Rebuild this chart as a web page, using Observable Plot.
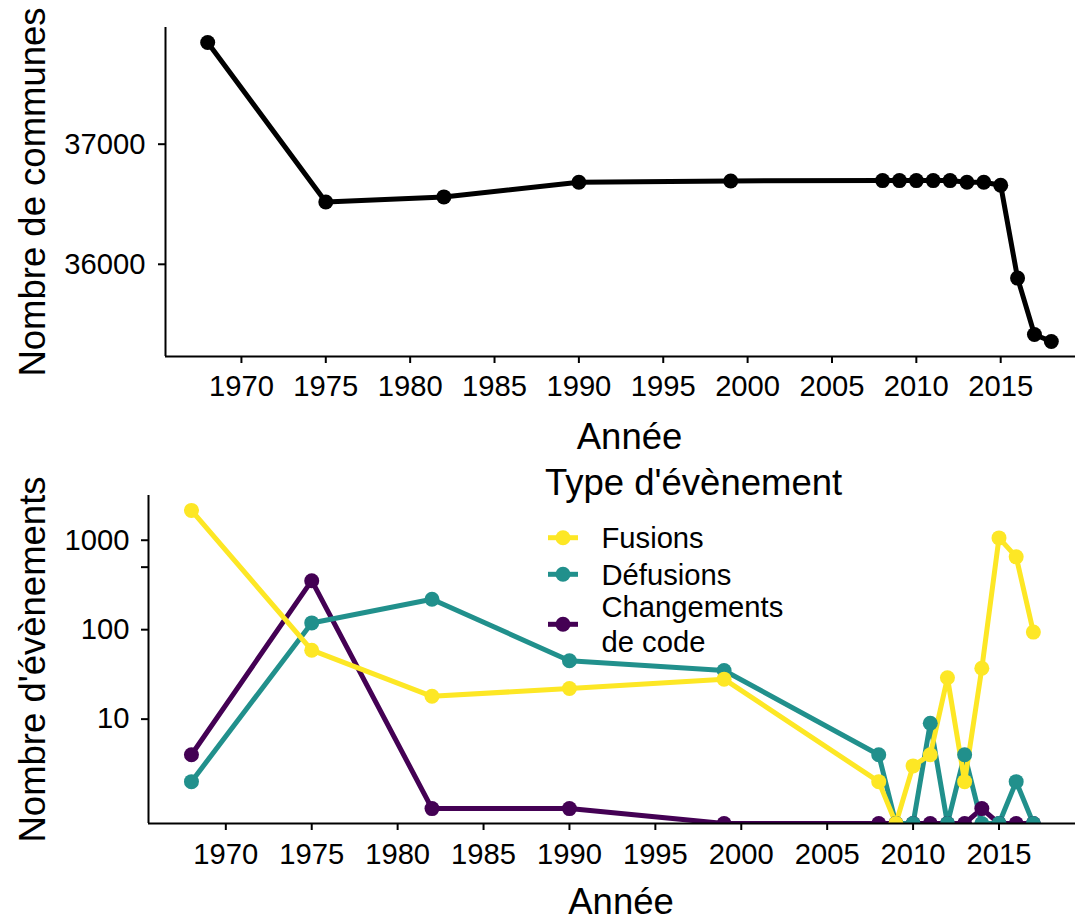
<!DOCTYPE html>
<html><head><meta charset="utf-8">
<script src="https://cdn.jsdelivr.net/npm/d3@7"></script>
<script src="https://cdn.jsdelivr.net/npm/@observablehq/plot@0.6"></script>
<style>
html,body{margin:0;padding:0;background:#fff;overflow:hidden;}
#wrap{position:relative;width:1075px;height:921px;overflow:hidden;background:#fff;}
#wrap svg{display:block;max-width:none !important;}
#legend{position:absolute;left:0;top:0;}
</style></head><body><div id="wrap"></div>
<script>
// ---- Data ----
const yearsTop = [1968,1975,1982,1990,1999,2008,2009,2010,2011,2012,2013,2014,2015,2016,2017,2018];
const communes = [37847,36519,36561,36683,36694,36697,36697,36697,36697,36697,36683,36683,36658,35885,35416,35357];
const yearsEvents = [1968,1975,1982,1990,1999,2008,2009,2010,2011,2012,2013,2014,2015,2016,2017];
const fusions     = [2154,59,18,22,28,2,0,3,4,29,2,37,1061,652,94];
const defusions   = [2,119,219,45,35,4,0,0,9,0,4,0,0,2,0];
const changements = [4,353,1,1,0,0,0,0,0,0,0,1,0,0,0];
const typeLabels = ["Fusions","Défusions","Changements de code"];
const typeColors = ["#FDE725","#21908C","#440154"];
const xTicks = [1970,1975,1980,1985,1990,1995,2000,2005,2010,2015];
const yTicksTop = [36000,37000];
const yTicksBottom = [10,100,500,1000];

const FONT = '"Liberation Sans", Arial, Helvetica, sans-serif';
const TICK = 29.2, TITLE = 36.5, LW = 5, R = 7.5;
const xDom = [1965.5, 2020.5];
const svgStyle = {fontFamily: FONT, background: "white", color: "black", maxWidth: "none"};

// ---- Top panel ----
const topRows = yearsTop.map((y,i)=>({year:y, n:communes[i]}));
const yTopDom = [35232.5, 37971.5];
const topPlot = Plot.plot({
  width: 1100, height: 460,
  marginLeft: 165, marginRight: 7, marginTop: 27, marginBottom: 104,
  style: svgStyle,
  x: {domain: xDom, label: null},
  y: {domain: yTopDom, label: null},
  marks: [
    Plot.axisX({ticks: xTicks, tickSize: 7, tickPadding: 12, fontSize: TICK, strokeWidth: 2, tickFormat: d=>String(d), label: null}),
    Plot.axisY({ticks: yTicksTop, tickSize: 7, tickPadding: 13, fontSize: TICK, strokeWidth: 2, tickFormat: d=>String(d), label: null}),
    Plot.line(topRows, {x:"year", y:"n", stroke:"black", strokeWidth:LW}),
    Plot.dot(topRows, {x:"year", y:"n", r:R, fill:"black"}),
    Plot.ruleX([xDom[0]], {strokeWidth: 2}),
    Plot.ruleY([yTopDom[0]], {strokeWidth: 2}),
    Plot.text(["Année"], {text: d=>d, frameAnchor:"bottom", dy: 80.4, fontSize: TITLE, lineAnchor:"middle", textAnchor:"middle"}),
    Plot.text(["Nombre de communes"], {text: d=>d, frameAnchor:"left", dx: -131.7, rotate:-90, fontSize: TITLE, lineAnchor:"middle", textAnchor:"middle"})
  ]
});

// ---- Bottom panel ----
const series = [["Changements de code", changements], ["Défusions", defusions], ["Fusions", fusions]];
const rows = [];
series.forEach(([t, arr]) => arr.forEach((v,i) => rows.push({year: yearsEvents[i], type: t, v})));
const yLo = Math.pow(10, -1/6), yHi = Math.pow(10, 3.5);
const yv = d => d.v > 0 ? d.v : yLo; // zero counts sit on the panel edge, as in the original

const botPlot = Plot.plot({
  width: 1100, height: 461,
  marginLeft: 148, marginRight: 7, marginTop: 35, marginBottom: 98,
  style: svgStyle,
  x: {domain: xDom, label: null},
  y: {type: "log", domain: [yLo, yHi], label: null},
  color: {domain: typeLabels, range: typeColors},
  marks: [
    Plot.axisX({ticks: xTicks, tickSize: 7, tickPadding: 13, fontSize: TICK, strokeWidth: 2, tickFormat: d=>String(d), label: null}),
    Plot.axisY({ticks: yTicksBottom, tickSize: 7, tickPadding: 12, fontSize: TICK, strokeWidth: 2, tickFormat: d=>String(d), label: null}),
    Plot.line(rows, {x:"year", y: yv, z:"type", stroke:"type", strokeWidth:LW, clip: true}),
    Plot.dot(rows, {x:"year", y: yv, fill:"type", r:R, clip: true}),
    Plot.ruleX([xDom[0]], {strokeWidth: 2}),
    Plot.ruleY([yLo], {strokeWidth: 2}),
    Plot.text(["Année"], {text: d=>d, frameAnchor:"bottom", dy: 78.5, fontSize: TITLE, lineAnchor:"middle", textAnchor:"middle"}),
    Plot.text(["Nombre d'évènements"], {text: d=>d, frameAnchor:"left", dx: -114.7, rotate:-90, fontSize: TITLE, lineAnchor:"middle", textAnchor:"middle"})
  ]
});

const wrap = document.getElementById("wrap");
wrap.appendChild(topPlot);
wrap.appendChild(botPlot);

// ---- Legend ----
const lg = d3.create("svg").attr("id","legend").attr("width",1075).attr("height",921)
  .style("font-family", FONT);
lg.append("text").attr("x",545).attr("y",495).attr("font-size",TITLE).attr("fill","black").text("Type d'évènement");
const items = [
  {label:["Fusions"], cy:537.7, color:typeColors[0]},
  {label:["Défusions"], cy:574.3, color:typeColors[1]},
  {label:["Changements","de code"], cy:624.3, color:typeColors[2]}
];
items.forEach(it => {
  lg.append("line").attr("x1",548).attr("x2",578).attr("y1",it.cy).attr("y2",it.cy)
    .attr("stroke",it.color).attr("stroke-width",LW);
  lg.append("circle").attr("cx",563).attr("cy",it.cy).attr("r",R).attr("fill",it.color);
  const n = it.label.length;
  it.label.forEach((s,j) => {
    const base = it.cy + 10.5 + (j - (n-1)/2) * 35;
    lg.append("text").attr("x",601.5).attr("y",base).attr("font-size",TICK).attr("fill","black").text(s);
  });
});
wrap.appendChild(lg.node());
</script>
</body></html>
